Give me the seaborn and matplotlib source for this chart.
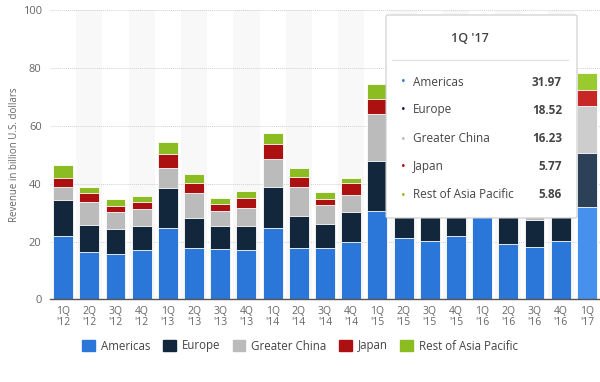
import numpy as np
import pandas as pd
import matplotlib
matplotlib.use("Agg")
import matplotlib.pyplot as plt
from matplotlib.patches import Patch, FancyBboxPatch
from matplotlib.lines import Line2D
import seaborn as sns

quarters = ["1Q\n'12", "2Q\n'12", "3Q\n'12", "4Q\n'12", "1Q\n'13", "2Q\n'13", "3Q\n'13", "4Q\n'13",
            "1Q\n'14", "2Q\n'14", "3Q\n'14", "4Q\n'14", "1Q\n'15", "2Q\n'15", "3Q\n'15", "4Q\n'15",
            "1Q\n'16", "2Q\n'16", "3Q\n'16", "4Q\n'16", "1Q\n'17"]
americas = [22.0, 16.3, 15.7, 17.0, 24.8, 17.9, 17.5, 17.2, 24.8, 17.8, 17.6, 19.7, 30.57, 21.32, 20.21, 21.77, 29.33, 19.10, 17.96, 20.23, 31.97]
europe = [12.2, 9.3, 8.7, 8.4, 13.6, 10.3, 7.9, 8.3, 14.0, 11.0, 8.3, 10.4, 17.21, 12.20, 10.34, 10.94, 17.93, 11.54, 9.64, 10.84, 18.52]
greater_china = [4.5, 8.0, 5.8, 5.8, 7.0, 8.4, 5.1, 6.1, 9.8, 9.9, 6.7, 6.0, 16.14, 16.82, 13.23, 12.52, 18.37, 12.49, 8.85, 8.79, 16.23]
japan = [3.3, 3.0, 2.2, 2.4, 4.7, 3.5, 2.3, 3.5, 5.0, 3.7, 2.2, 4.0, 5.45, 3.46, 3.46, 3.93, 4.79, 4.26, 3.53, 4.32, 5.77]
rest_apac = [4.3, 2.3, 2.4, 2.2, 4.2, 3.3, 2.3, 2.3, 3.8, 2.9, 2.4, 1.7, 5.23, 4.21, 2.37, 2.34, 5.45, 3.16, 2.38, 2.67, 5.86]

series_names = ["Americas", "Europe", "Greater China", "Japan", "Rest of Asia Pacific"]
series_vals = [americas, europe, greater_china, japan, rest_apac]
base_colors = ["#2a77d9", "#12263c", "#bbbbbb", "#ad1010", "#8bbd22"]
hi_colors = ["#4690ee", "#2c4058", "#cdcdcd", "#c92626", "#99cb30"]

tooltip_title = "1Q '17"
tooltip_values = ["31.97", "18.52", "16.23", "5.77", "5.86"]

sns.set_theme(style="white")
plt.rcParams["font.family"] = ["Open Sans", "DejaVu Sans"]

fig = plt.figure(figsize=(6.0, 3.82), dpi=100)
ax = fig.add_axes([50/600, 82.6/382, 550/600, 289.4/382])

df = pd.DataFrame({"quarter": quarters})
cum = np.zeros(len(quarters))
cums = []
for v in series_vals:
    cum = cum + np.array(v)
    cums.append(cum.copy())

# alternating column bands
for i in range(len(quarters)):
    if i % 2 == 1:
        ax.axvspan(i - 0.5, i + 0.5, color="#f8f8f8", zorder=0, lw=0)

for k in range(len(series_names) - 1, -1, -1):
    df["val"] = cums[k]
    pal = {q: base_colors[k] for q in quarters}
    pal[quarters[-1]] = hi_colors[k]
    sns.barplot(data=df, x="quarter", y="val", hue="quarter", palette=pal, order=quarters,
                hue_order=quarters, dodge=False, legend=False, errorbar=None, width=0.76,
                edgecolor="white", linewidth=0.6, saturation=1, ax=ax, zorder=2)

ax.set_xlim(-0.5, len(quarters) - 0.5)
ax.set_ylim(0, 100)
ax.set_yticks([0, 20, 40, 60, 80, 100])
ax.yaxis.grid(True, color="#d0d0d0", linestyle=(0, (1, 1)), linewidth=0.7, zorder=1)
ax.set_axisbelow(True)
for s in ["top", "right", "left"]:
    ax.spines[s].set_visible(False)
ax.spines["bottom"].set_color("#555555")
ax.spines["bottom"].set_linewidth(1.0)
ax.spines["bottom"].set_zorder(3)
ax.tick_params(axis="both", length=0, labelsize=7.5, labelcolor="#666666")
ax.tick_params(axis="y", pad=6, labelsize=8)
ax.tick_params(axis="x", pad=5)
for lbl in ax.get_xticklabels():
    lbl.set_linespacing(0.95)
ax.set_xlabel("")
ax.set_ylabel("Revenue in billion U.S. dollars", fontsize=7, color="#666666", labelpad=2)

# legend
handles = [Patch(facecolor=c, edgecolor=c) for c in base_colors]
fig.legend(handles, series_names, loc="center", bbox_to_anchor=(0.5, 1 - 346/382), ncol=5,
           frameon=False, fontsize=8.3, handlelength=1.1, handleheight=1.1, columnspacing=1.1,
           handletextpad=0.5, labelcolor="#444444")

# tooltip overlay
box = FancyBboxPatch((386/600, 1 - 218/382), 191/600, 203/382, boxstyle="round,pad=0,rounding_size=0.004",
                     transform=fig.transFigure, facecolor="white", edgecolor="#cccccc", lw=0.8,
                     alpha=1.0, zorder=10)
fig.patches.append(box)
fig.text(470/600, 1 - 38/382, tooltip_title, ha="center", va="center", fontsize=9,
         fontweight="semibold", color="#444444", zorder=11)
fig.lines.append(Line2D([392/600, 568/600], [1 - 60/382, 1 - 60/382], transform=fig.transFigure,
                        color="#e2e2e2", lw=1.0, zorder=11))
row_y = [82, 110, 139, 167, 195]
for name, val, col, yy in zip(series_names, tooltip_values, base_colors, row_y):
    fy = 1 - yy/382
    fig.text(403/600, fy, "•", ha="center", va="center", fontsize=9, color=col, zorder=11)
    fig.text(413/600, fy, name, ha="left", va="center", fontsize=8.5, color="#444444", zorder=11)
    fig.text(562/600, fy, val, ha="right", va="center", fontsize=8.5, fontweight="bold",
             color="#444444", zorder=11)

fig.savefig("out.png", dpi=100)
